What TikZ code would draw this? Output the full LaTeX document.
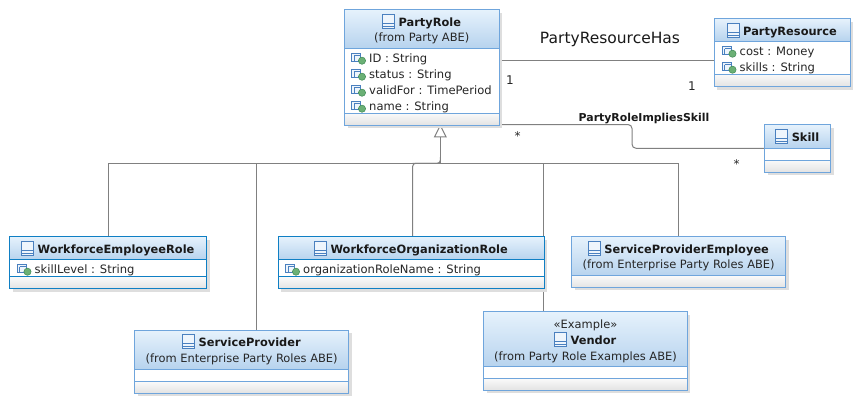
\documentclass[tikz,border=0pt]{standalone}
\usepackage{fontspec}
\setmainfont{DejaVu Sans}
\usetikzlibrary{arrows.meta,calc}
\definecolor{bdr}{HTML}{6FA5DC}
\definecolor{sel}{HTML}{0F7FC4}
\definecolor{hdtop}{HTML}{E6F2FC}
\definecolor{hdbot}{HTML}{B7D3EE}
\definecolor{ftop}{HTML}{FAFAFA}
\definecolor{fbot}{HTML}{E3E3E3}
\definecolor{shd}{HTML}{DEDEDE}
\definecolor{ico}{HTML}{4A80BF}
\definecolor{icofill}{HTML}{EEF5FC}
\definecolor{lnk}{HTML}{808080}
\definecolor{grn}{HTML}{6BB075}
\definecolor{grnd}{HTML}{3F8A55}
\pgfdeclarelayer{bg}
\pgfsetlayers{bg,main}
\tikzset{
  umlclass/.style={draw=#1,line width=1pt,inner sep=0pt,outer sep=0pt},
  umlname/.style={font=\fontsize{11.4}{13}\selectfont\bfseries,inner sep=0pt,anchor=base,text=black!90},
  umlsub/.style={font=\fontsize{11.45}{13}\selectfont,inner sep=0pt,anchor=base,text=black!85},
  umlattrtext/.style={font=\fontsize{11.55}{13}\selectfont,inner sep=0pt,anchor=base west,text=black!85},
  assocname/.style={font=\fontsize{15.5}{17}\selectfont,inner sep=0pt,anchor=base,text=black!90},
  assocbold/.style={font=\fontsize{10.9}{13}\selectfont\bfseries,inner sep=0pt,anchor=base,text=black!90},
  multlabel/.style={font=\fontsize{12}{14}\selectfont,inner sep=0pt,anchor=base,text=black!85},
  linkline/.style={draw=lnk,line width=1pt},
  genline/.style={draw=lnk,line width=1pt,-{Triangle[open,fill=white,length=13pt,width=13pt,line width=1pt]}},
}
% colour, x1, y1, x2, y2, header bottom, x1 again, separator
\newcommand{\umlbox}[8]{%
  \fill[shd] (#2+3,#3+3) rectangle (#4+3,#5+3);
  \fill[white] (#2,#3) rectangle (#4,#5);
  \shade[top color=hdtop,bottom color=hdbot] (#2,#3) rectangle (#4,#6);
  \shade[top color=ftop,bottom color=fbot] (#7,#8) rectangle (#4,#5);
  \draw[#1!100,line width=1pt] (#2,#6) -- (#4,#6);
  \draw[#1!100,line width=1pt] (#2,#8) -- (#4,#8);
}
\newcommand{\umlnode}[6]{% name x1 y1 x2 y2 colour
  \pgfmathsetmacro{\bw}{#4-#2}\pgfmathsetmacro{\bh}{#5-#3}
  \pgfmathsetmacro{\bx}{(#2+#4)/2}\pgfmathsetmacro{\by}{(#3+#5)/2}
  \node[umlclass=#6,minimum width=\bw pt,minimum height=\bh pt] (#1) at (\bx,\by) {};
}
% box name, title-node name, baseline y, text
\newcommand{\umlhead}[4]{%
  \path (#1.center) ++(8,0) coordinate (tmp);
  \node[umlname] (#2) at (tmp |- 0,#3) {#4};
  \path (#2.base west) ++(-16,0) coordinate (ic);
  \fill[icofill] (ic) ++(0,2) rectangle ++(12,-14);
  \draw[ico,line width=.9pt] (ic) ++(0,2) rectangle ++(12,-14);
  \draw[ico,line width=.9pt] (ic) ++(0,-3) -- ++(12,0);
  \draw[ico,line width=.9pt] (ic) ++(0,0) -- ++(12,0);
}
% node name, x, baseline y, text
\newcommand{\umlattr}[4]{%
  \node[umlattrtext] (#1) at (#2+17.5,#3) {#4};
  \draw[ico,line width=.9pt,fill=icofill] (#2,#3-9) rectangle ++(9,8);
  \draw[ico,line width=.8pt] (#2+2.5,#3-6.5) -- ++(6.5,0) (#2+2.5,#3-6.5) -- ++(0,5.5);
  \fill[grn,draw=grnd,line width=.5pt] (#2+10.5,#3-1.6) circle (3.6);
}
\begin{document}
\begin{tikzpicture}[x=1pt,y=-1pt]
\useasboundingbox (0,0) rectangle (865,408);
\begin{pgfonlayer}{bg}
\fill[white] (0,0) rectangle (865,408);
\end{pgfonlayer}

% PartyRole
\umlbox{bdr}{344.5}{9.5}{499}{125}{48}{344.5}{113}
\umlnode{partyrole}{344.5}{9.5}{499}{125}{bdr}
\umlhead{partyrole}{partyroleT}{26}{PartyRole}
\node[umlsub] (partyroleS) at (partyrole.center |- 0,41.7) {(from Party ABE)};
\umlattr{aID}{351.5}{62.3}{ID : String}
\umlattr{aStatus}{351.5}{78.3}{status : String}
\umlattr{aValid}{351.5}{94.3}{validFor : TimePeriod}
\umlattr{aName}{351.5}{110.3}{name : String}

% PartyResource
\umlbox{bdr}{714}{18.5}{850}{86.5}{41}{714}{74}
\umlnode{partyres}{714}{18.5}{850}{86.5}{bdr}
\umlhead{partyres}{partyresT}{35}{PartyResource}
\umlattr{aCost}{722}{55.3}{cost : Money}
\umlattr{aSkills}{722}{71.3}{skills : String}

% Skill
\umlbox{bdr}{764.5}{124.5}{830.5}{172}{148}{764.5}{160}
\umlnode{skill}{764.5}{124.5}{830.5}{172}{bdr}
\umlhead{skill}{skillT}{141}{Skill}

% WorkforceEmployeeRole
\umlbox{sel}{9.5}{236.7}{206.5}{288.5}{259.3}{9.5}{276.7}
\umlnode{wer}{9.5}{236.7}{206.5}{288.5}{sel}
\umlhead{wer}{werT}{253}{WorkforceEmployeeRole}
\umlattr{aLevel}{17}{273.3}{skillLevel : String}

% WorkforceOrganizationRole
\umlbox{sel}{278.3}{236.7}{544}{288.5}{259.3}{278.3}{276.7}
\umlnode{wor}{278.3}{236.7}{544}{288.5}{sel}
\umlhead{wor}{worT}{253}{WorkforceOrganizationRole}
\umlattr{aOrg}{285.5}{273.3}{organizationRoleName : String}

% ServiceProviderEmployee
\umlbox{bdr}{571.7}{236.7}{785.7}{287.3}{275.7}{571.7}{275.7}
\umlnode{spe}{571.7}{236.7}{785.7}{287.3}{bdr}
\umlhead{spe}{speT}{253}{ServiceProviderEmployee}
\node[umlsub] (speS) at (spe.center |- 0,268.7) {(from Enterprise Party Roles ABE)};

% ServiceProvider
\umlbox{bdr}{134.7}{330}{348.7}{393}{369}{134.7}{381.7}
\umlnode{sp}{134.7}{330}{348.7}{393}{bdr}
\umlhead{sp}{spT}{346.5}{ServiceProvider}
\node[umlsub] (spS) at (sp.center |- 0,362) {(from Enterprise Party Roles ABE)};

% Vendor
\umlbox{bdr}{483.7}{311.7}{687.3}{390.3}{366.7}{483.7}{378.3}
\umlnode{vendor}{483.7}{311.7}{687.3}{390.3}{bdr}
\node[umlsub] (vendorK) at (vendor.center |- 0,328) {«Example»};
\umlhead{vendor}{vendorT}{344}{Vendor}
\node[umlsub] (vendorS) at (vendor.center |- 0,360) {(from Party Role Examples ABE)};

% connectors
\coordinate (bus) at (440.3,163.3);
\coordinate (stemTop) at (440.3,157);
\coordinate (spJ) at (256.3,163.3);
\coordinate (worJ) at (412.7,163.3);
\coordinate (venJ) at (543.3,163.3);
\coordinate (assocA) at (499,60.5);
\coordinate (assocB) at (499,124.5);
\coordinate (skillMid) at (632,134);
\begin{pgfonlayer}{bg}
\draw[genline] (bus) -- ([yshift=.6pt]bus |- partyrole.south);
\draw[linkline,rounded corners=3pt] (worJ) -| (stemTop);
\draw[linkline] (wer.north) |- (bus);
\draw[linkline] (spe.north) |- (bus);
\draw[linkline] (spJ) -- (spJ |- sp.north);
\draw[linkline,rounded corners=3pt] (worJ |- wor.north) |- (bus);
\draw[linkline] (venJ) -- (venJ |- vendor.north);
\draw[linkline] (assocA) -- (assocA -| partyres.west);
\draw[linkline,rounded corners=4pt] (assocB) -| (skillMid) |- (skill.west);
\end{pgfonlayer}

% association labels
\node[assocname] (lblHas) at (610,43.5) {PartyResourceHas};
\node[multlabel] (m1) at (510,84) {1};
\node[multlabel] (m2) at (692,90) {1};
\node[assocbold] (lblSkill) at (644,121.5) {PartyRoleImpliesSkill};
\node[multlabel] (m3) at (517.5,140) {*};
\node[multlabel] (m4) at (736.5,168) {*};
\end{tikzpicture}
\end{document}
